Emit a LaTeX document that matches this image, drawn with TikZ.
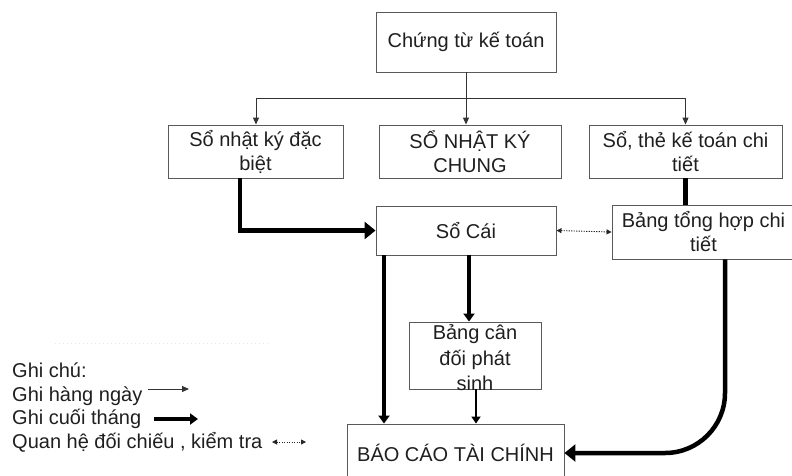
\documentclass[tikz,border=0pt]{standalone}
\usepackage{fontspec}
\setmainfont{Liberation Sans}
\usetikzlibrary{arrows.meta,calc}
\begin{document}
\begin{tikzpicture}[x=1pt,y=-1pt,
  box/.style={draw=black!65, line width=0.9pt, fill=white, align=center, inner sep=0pt,
    text=black!88, font=\fontsize{20}{24}\selectfont},
  thinarr/.style={draw=black!80, line width=1pt, -{Triangle[length=7pt,width=6pt]}},
  thinline/.style={draw=black!80, line width=1pt},
  heavy/.style={draw=black, line width=4.5pt},
  heavyarr/.style={heavy, -{Triangle[length=8pt,width=11pt]}},
  midarr/.style={draw=black, line width=2.6pt, -{Triangle[length=7pt,width=9pt]}},
  bigarr/.style={heavy, -{Triangle[length=11pt,width=17pt]}},
  checkarr/.style={draw=black!85, line width=0.9pt, dash pattern=on 1.2pt off 1.3pt,
    {Triangle[length=5pt,width=5pt]}-{Triangle[length=5pt,width=5pt]}},
  lbl/.style={anchor=base west, inner sep=0pt, text=black!88, font=\fontsize{20}{24}\selectfont}
]
\useasboundingbox (0,0) rectangle (792,475);

% boxes
\node[box, minimum width=180pt, minimum height=60pt] (top) at (466,42) {Chứng từ kế toán};
\node[box, minimum width=175pt, minimum height=53pt] (nkdb) at (255.5,151.5) {Sổ nhật ký đặc\\biệt};
\node[box, minimum width=182pt, minimum height=53pt] (nkc) at (470,151.5) {SỔ NHẬT KÝ\\CHUNG};
\node[box, minimum width=193pt, minimum height=53pt] (stkt) at (685.5,151.5) {Sổ, thẻ kế toán chi\\tiết};
\node[box, minimum width=180pt, minimum height=49pt] (socai) at (466,230.5) {Sổ Cái};
\node[box, minimum width=183pt, minimum height=54pt] (bth) at (703.5,232) {Bảng tổng hợp chi\\tiết};
\node[box, minimum width=132pt, minimum height=67pt] (bcd) at (475,355.5)
  {\raisebox{-10pt}[0pt][0pt]{\fontsize{20}{25.5}\selectfont\begin{tabular}{@{}c@{}}Bảng cân\\đối phát\\sinh\end{tabular}}};
\node[box, minimum width=217pt, minimum height=58pt] (bctc) at (455.5,453) {BÁO CÁO TÀI CHÍNH};

% branch from top
\coordinate (br) at (466,98);
\coordinate (bL) at (256,98);
\coordinate (bR) at (685.5,98);
\draw[thinline] (top.south) -- (br);
\draw[thinline] (bL) -- (bR);
\draw[thinarr] (bL) -- (bL |- nkdb.north);
\draw[thinarr] (br) -- (br |- nkc.north);
\draw[thinarr] (bR) -- (bR |- stkt.north);

% end-of-month flows
\coordinate (xa) at (240,0);
\draw[bigarr] (xa |- nkdb.south) |- (socai.west);
\draw[heavy] (stkt.south) -- (stkt.south |- bth.north);
\coordinate (xb) at (384,0);
\draw[heavyarr] (xb |- socai.south) -- (xb |- bctc.north);
\coordinate (xc) at (469,0);
\draw[heavyarr] (xc |- socai.south) -- (xc |- bcd.north);
\coordinate (xd) at (476,0);
\draw[midarr] (xd |- bcd.south) -- (xd |- bctc.north);
\coordinate (xe) at (725,0);
\draw[bigarr, rounded corners=60pt] (xe |- bth.south) |- (bctc.east);

% check relation
\draw[checkarr] (socai.east) -- (bth.west);

% legend
\coordinate (f1) at (55,343);
\coordinate (f2) at (268,343);
\draw[gray!18, line width=0.8pt, dash pattern=on 1pt off 3pt] (f1) -- (f2);
\node[lbl] (l0) at (12,377) {Ghi chú:};
\node[lbl] (l1) at (12,401) {Ghi hàng ngày};
\node[lbl] (l2) at (12,424.5) {Ghi cuối tháng};
\node[lbl] (l3) at (12,448) {Quan hệ đối chiếu , kiểm tra};
\coordinate (a1s) at (148,389);
\coordinate (a1e) at (189,389);
\draw[thinarr] (a1s) -- (a1e);
\coordinate (a2s) at (154,419);
\coordinate (a2e) at (198,419);
\draw[heavyarr] (a2s) -- (a2e);
\coordinate (a3s) at (272,442);
\coordinate (a3e) at (306,442);
\draw[checkarr] (a3s) -- (a3e);
\end{tikzpicture}
\end{document}
